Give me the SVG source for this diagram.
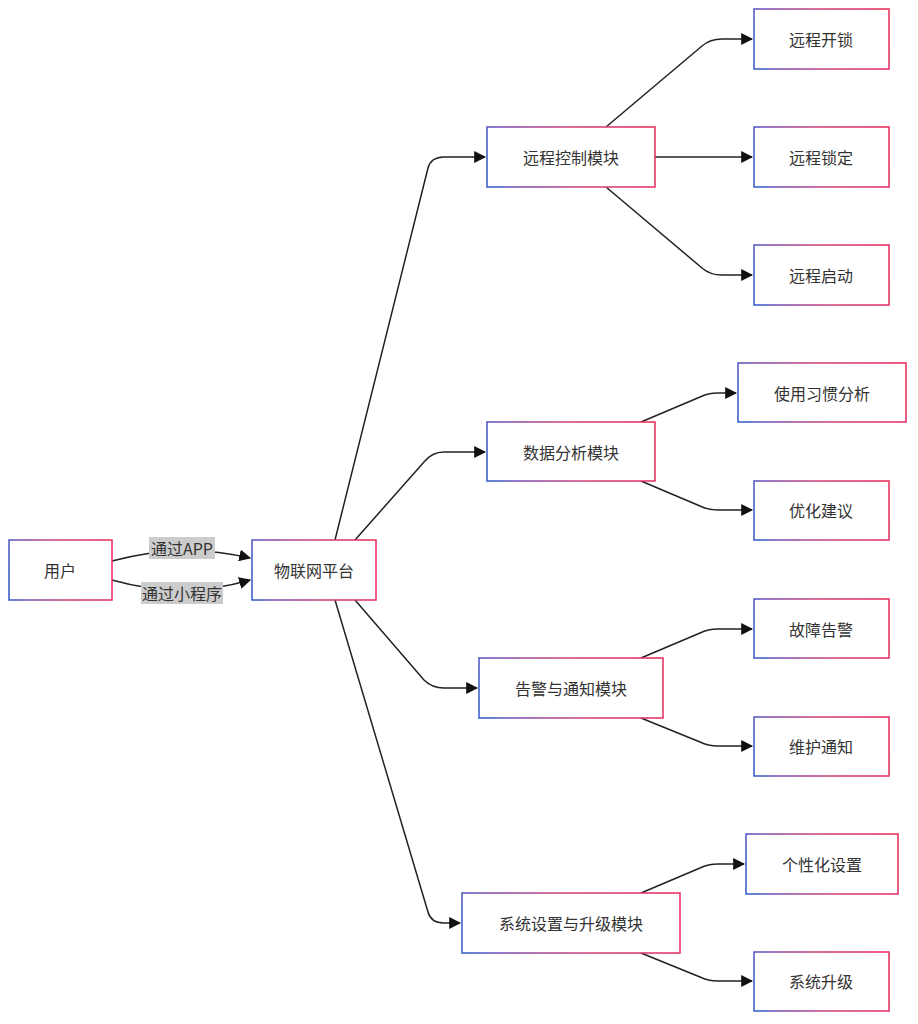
<svg xmlns="http://www.w3.org/2000/svg" width="918" height="1024" viewBox="0 0 918 1024">
<style>
.n{fill:#fff;stroke:url(#g);stroke-width:1.5}
.t{font-family:"Noto Sans CJK SC","Liberation Sans",sans-serif;font-size:16px;fill:#333;text-anchor:middle;dominant-baseline:central}
.e{fill:none;stroke:#222;stroke-width:1.5;marker-end:url(#a)}
.lb{fill:#ccc}
</style>
<defs>
<linearGradient id="g" x1="0" y1="0.55" x2="1" y2="0.45"><stop offset="0" stop-color="#3158c8"/><stop offset="0.15" stop-color="#7a4cb0"/><stop offset="0.5" stop-color="#c8407a"/><stop offset="1" stop-color="#e8285a"/></linearGradient>
<marker id="a" viewBox="0 0 10 10" refX="9" refY="5" markerWidth="8" markerHeight="8" orient="auto"><path d="M0,0L10,5L0,10z" fill="#111"/></marker>
</defs>
<rect width="918" height="1024" fill="#fff"/>
<g id="edges">
<path class="e" d="M112,561 Q182,542 250,558"/>
<path class="e" d="M112,580 Q182,600 250,580"/>
<path class="e" d="M335,540 L428,168 Q431,157 444,157 L485,157"/>
<path class="e" d="M355,540 L424,462 Q432,452 444,452 L485,452"/>
<path class="e" d="M355,600 L424,680 Q432,688 444,688 L477,688"/>
<path class="e" d="M335,600 L428,912 Q431,923 444,923 L460,923"/>
<path class="e" d="M606,127 L702,46 Q710,39 722,39 L752,39"/>
<path class="e" d="M655,157 L752,157"/>
<path class="e" d="M606,187 L702,268 Q710,275 722,275 L752,275"/>
<path class="e" d="M641,422 L700,397 Q708,393 718,393 L736,393"/>
<path class="e" d="M641,481 L700,506 Q708,510 718,510 L752,510"/>
<path class="e" d="M641,658 L700,633 Q708,629 718,629 L752,629"/>
<path class="e" d="M641,718 L700,742 Q708,746 718,746 L752,746"/>
<path class="e" d="M641,893 L700,868 Q708,864 718,864 L744,864"/>
<path class="e" d="M641,953 L700,977 Q708,981 718,981 L752,981"/>
<rect class="lb" x="149" y="537" width="66" height="22"/><text class="t" x="182" y="548">通过APP</text>
<rect class="lb" x="141" y="582" width="82" height="22"/><text class="t" x="182" y="593">通过小程序</text>
</g>
<g id="user"><rect class="n" x="9" y="540" width="103" height="60"/><text class="t" x="60" y="570">用户</text></g>
<g id="platform"><rect class="n" x="252" y="540" width="124" height="60"/><text class="t" x="314" y="570">物联网平台</text></g>
<g id="ctrl"><rect class="n" x="487" y="127" width="168" height="60"/><text class="t" x="571" y="157">远程控制模块</text></g>
<g id="data"><rect class="n" x="487" y="422" width="168" height="59"/><text class="t" x="571" y="452">数据分析模块</text></g>
<g id="alarm"><rect class="n" x="479" y="658" width="184" height="60"/><text class="t" x="571" y="688">告警与通知模块</text></g>
<g id="sys"><rect class="n" x="462" y="893" width="218" height="60"/><text class="t" x="571" y="923">系统设置与升级模块</text></g>
<g id="unlock"><rect class="n" x="754" y="9" width="135" height="60"/><text class="t" x="821" y="39">远程开锁</text></g>
<g id="lock"><rect class="n" x="754" y="127" width="135" height="60"/><text class="t" x="821" y="157">远程锁定</text></g>
<g id="start"><rect class="n" x="754" y="245" width="135" height="60"/><text class="t" x="821" y="275">远程启动</text></g>
<g id="habit"><rect class="n" x="738" y="363" width="168" height="59"/><text class="t" x="822" y="393">使用习惯分析</text></g>
<g id="opt"><rect class="n" x="754" y="481" width="135" height="59"/><text class="t" x="821" y="510">优化建议</text></g>
<g id="fault"><rect class="n" x="754" y="599" width="135" height="59"/><text class="t" x="821" y="629">故障告警</text></g>
<g id="maint"><rect class="n" x="754" y="717" width="135" height="59"/><text class="t" x="821" y="746">维护通知</text></g>
<g id="pers"><rect class="n" x="746" y="834" width="152" height="60"/><text class="t" x="822" y="864">个性化设置</text></g>
<g id="upg"><rect class="n" x="754" y="952" width="135" height="59"/><text class="t" x="821" y="981">系统升级</text></g>
</svg>
